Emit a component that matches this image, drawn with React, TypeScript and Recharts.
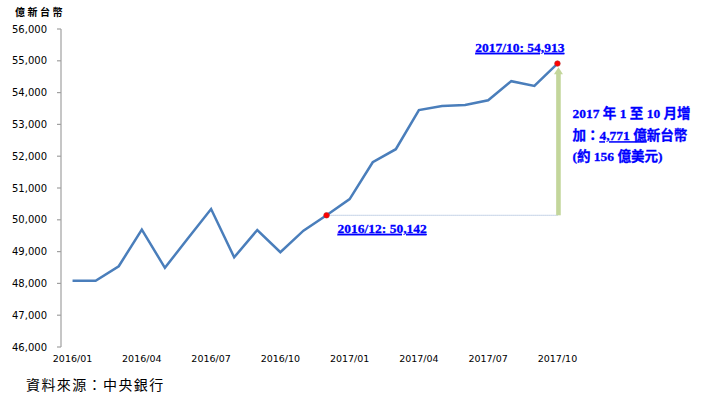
import React from 'react';
import { LineChart, Line, XAxis, YAxis, ReferenceLine } from 'recharts';

const months = [
  '2016/01', '2016/02', '2016/03', '2016/04', '2016/05', '2016/06',
  '2016/07', '2016/08', '2016/09', '2016/10', '2016/11', '2016/12',
  '2017/01', '2017/02', '2017/03', '2017/04', '2017/05', '2017/06',
  '2017/07', '2017/08', '2017/09', '2017/10',
];
const values = [
  48080, 48080, 48540, 49690, 48490, 49420, 50340, 48820, 49680, 48980, 49660, 50142,
  50650, 51810, 52220, 53450, 53580, 53610, 53760, 54360, 54210, 54913,
];
const labelTicks = [0, 3, 6, 9, 12, 15, 18, 21];
const boundaryTicks = [-0.5, 2.5, 5.5, 8.5, 11.5, 14.5, 17.5, 20.5];
const yTicks = [46000, 47000, 48000, 49000, 50000, 51000, 52000, 53000, 54000, 55000, 56000];
const startIdx = 11;
const endIdx = 21;
const usdText = '156';

const data = months.map((m, i) => ({ i, month: m, value: values[i] }));

const annoFont = "'Liberation Serif', 'Noto Sans CJK TC', serif";
const blue = '#0000FF';
const green = '#C3D69B';

const fmt = (v: number) => v.toLocaleString('en-US');

const Dot = (props: any) => {
  const { cx, cy, index } = props;
  if (index !== startIdx && index !== endIdx) return <g key={`d${index}`} />;
  const label = `${months[index]}: ${fmt(values[index])}`;
  const isEnd = index === endIdx;
  return (
    <g key={`d${index}`}>
      <circle cx={cx} cy={cy} r={2.8} fill="#FF0000" stroke="#B03030" strokeWidth={0.6} />
      <text
        x={isEnd ? cx + 7 : cx + 11}
        y={isEnd ? cy - 11.7 : cy + 17.6}
        textAnchor={isEnd ? 'end' : 'start'}
        fontFamily={annoFont}
        fontWeight="bold"
        fontSize={13.5}
        fill={blue}
        stroke={blue}
        strokeWidth={0.3}
        style={{ textDecoration: 'underline' }}
      >
        {label}
      </text>
    </g>
  );
};

const ArrowShape = (p: any) => {
  const { x1, y1, y2 } = p;
  const top = Math.min(y1, y2);
  const bottom = Math.max(y1, y2);
  const x = x1 + 1;
  const tx = x + 14;
  const inc = fmt(values[endIdx] - values[startIdx]);
  return (
    <g>
      <rect x={x - 2.3} y={top + 6} width={4.6} height={bottom - top - 6} fill={green} />
      <polygon points={`${x - 4.5},${top + 7} ${x},${top} ${x + 4.5},${top + 7}`} fill={green} />
      <text fontFamily={annoFont} fontWeight="bold" fontSize={13.5} fill={blue} stroke={blue} strokeWidth={0.3}>
        <tspan x={tx} y={top + 51}>2017 年 1 至 10 月增</tspan>
        <tspan x={tx} y={top + 73}>加：</tspan>
        <tspan style={{ textDecoration: 'underline' }}>{inc} 億</tspan>
        <tspan>新台幣</tspan>
        <tspan x={tx} y={top + 94}>{`(約 ${usdText} 億美元)`}</tspan>
      </text>
    </g>
  );
};

export default function App() {
  return (
    <div style={{ position: 'absolute', left: 0, top: 0, width: 705, height: 398, background: '#fff' }}>
      <div
        style={{
          position: 'absolute', left: 15, top: 6, fontSize: 10, fontWeight: 'bold', letterSpacing: 2.5,
          fontFamily: "'Noto Sans CJK TC', sans-serif", lineHeight: '12px', color: '#000',
        }}
      >
        億新台幣
      </div>
      <LineChart
        width={705}
        height={398}
        data={data}
        margin={{ top: 29, right: 136, left: 11, bottom: 31 }}
      >
        <XAxis
          xAxisId={0}
          dataKey="i"
          type="number"
          domain={[-0.5, 21.5]}
          ticks={boundaryTicks}
          interval={0}
          tick={false}
          height={0}
          tickSize={4}
          stroke="#A0A0A0"
          axisLine={{ stroke: '#A0A0A0', strokeWidth: 1.2 }}
          tickLine={{ stroke: '#A0A0A0', strokeWidth: 1.2 }}
          allowDataOverflow
        />
        <XAxis
          xAxisId="lbl"
          dataKey="i"
          type="number"
          domain={[-0.5, 21.5]}
          ticks={labelTicks}
          interval={0}
          height={20}
          tickSize={0}
          tickMargin={8}
          axisLine={false}
          tickLine={false}
          tickFormatter={(v: number) => months[v] ?? ''}
          tick={{ fontSize: 9.5, fill: '#000', fontFamily: "'DejaVu Sans', sans-serif" }}
        />
        <YAxis
          width={50}
          domain={[46000, 56000]}
          ticks={yTicks}
          interval={0}
          tickSize={4}
          tickMargin={10}
          tickFormatter={fmt}
          axisLine={{ stroke: '#A0A0A0', strokeWidth: 1.2 }}
          tickLine={{ stroke: '#A0A0A0', strokeWidth: 1.2 }}
          tick={{ fontSize: 10, fill: '#000', fontFamily: "'DejaVu Sans', sans-serif" }}
        />
        <ReferenceLine
          segment={[{ x: startIdx, y: values[startIdx] }, { x: endIdx, y: values[startIdx] }]}
          stroke="#8EA9D0"
          strokeWidth={1}
          strokeDasharray="1 1"
          ifOverflow="visible"
        />
        <ReferenceLine
          segment={[{ x: endIdx, y: values[startIdx] }, { x: endIdx, y: values[endIdx] - 115 }]}
          stroke={green}
          ifOverflow="visible"
          shape={ArrowShape}
        />
        <Line
          type="linear"
          dataKey="value"
          stroke="#4A7EBB"
          strokeWidth={2.5}
          dot={Dot}
          activeDot={false}
          isAnimationActive={false}
        />
      </LineChart>
      <div
        style={{
          position: 'absolute', left: 26, top: 376, fontSize: 14, letterSpacing: 1.4,
          fontFamily: "'Noto Sans CJK TC', sans-serif", lineHeight: '16px', color: '#000',
        }}
      >
        資料來源：中央銀行
      </div>
    </div>
  );
}
